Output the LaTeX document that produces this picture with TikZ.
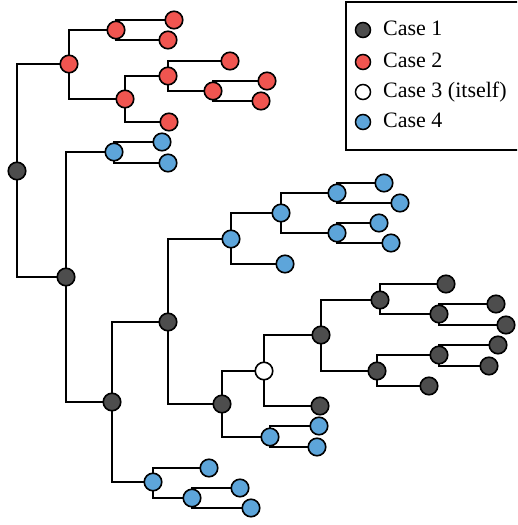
\documentclass[tikz,border=0pt]{standalone}
\usepackage{fontspec}
\setmainfont{Liberation Serif}
\usetikzlibrary{backgrounds}
\definecolor{cdark}{RGB}{77,77,77}
\definecolor{cred}{RGB}{240,85,80}
\definecolor{cblue}{RGB}{93,165,218}
\tikzset{
  nd/.style={circle,draw=black,line width=1.6pt,minimum size=17.5pt,inner sep=0pt},
  cone/.style={nd,fill=cdark},
  ctwo/.style={nd,fill=cred},
  cthree/.style={nd,fill=white},
  cfour/.style={nd,fill=cblue},
  lg/.style={circle,draw=black,line width=1.5pt,minimum size=15pt,inner sep=0pt},
  lgtext/.style={anchor=west,inner sep=0pt,font=\fontsize{22}{26}\selectfont,text height=14.5pt,text depth=4pt},
  edge/.style={draw=black,line width=1.7pt},
  legendbox/.style={draw=black,line width=1.6pt,fill=white}
}
\begin{document}
\begin{tikzpicture}[x=1pt,y=-1pt]
\useasboundingbox (0,0) rectangle (517,525);
\clip (0,0) rectangle (517,525);
% legend
\node[legendbox,minimum width=180pt,minimum height=148pt,anchor=north west,inner sep=0pt] (legend) at (345,1) {};
\node[lg,fill=cdark] (l1) at (363,30) {};
\node[lgtext] (t1) at (383,30) {Case 1};
\node[lg,fill=cred] (l2) at (363,62) {};
\node[lgtext] (t2) at (383,62) {Case 2};
\node[lg,fill=white] (l3) at (363,92) {};
\node[lgtext] (t3) at (383,92) {Case 3 (itself)};
\node[lg,fill=cblue] (l4) at (363,122) {};
\node[lgtext] (t4) at (383,122) {Case 4};
% tree nodes
\node[cone] (root) at (17,171) {};
\node[ctwo] (a) at (69,64) {};
\node[ctwo] (b) at (116,30) {};
\node[ctwo] (b1) at (174,20) {};
\node[ctwo] (b2) at (168,40) {};
\node[ctwo] (c) at (125,99) {};
\node[ctwo] (d) at (168,76) {};
\node[ctwo] (d1) at (230,61) {};
\node[ctwo] (e) at (213,91) {};
\node[ctwo] (e1) at (267,81) {};
\node[ctwo] (e2) at (261,101) {};
\node[ctwo] (cc) at (169,122) {};
\node[cone] (f) at (66,277) {};
\node[cfour] (g) at (114,152) {};
\node[cfour] (g1) at (162,142) {};
\node[cfour] (g2) at (168,163) {};
\node[cone] (h) at (112,402) {};
\node[cone] (i) at (168,322) {};
\node[cfour] (l) at (231,239) {};
\node[cfour] (n) at (281,213) {};
\node[cfour] (o) at (337,193) {};
\node[cfour] (o1) at (384,183) {};
\node[cfour] (o2) at (400,203) {};
\node[cfour] (p) at (337,233) {};
\node[cfour] (p1) at (379,223) {};
\node[cfour] (p2) at (391,243) {};
\node[cfour] (ll) at (285,264) {};
\node[cone] (m) at (222,404) {};
\node[cthree] (w) at (264,371) {};
\node[cone] (r) at (321,335) {};
\node[cone] (s) at (380,300) {};
\node[cone] (s1) at (446,284) {};
\node[cone] (u) at (439,314) {};
\node[cone] (u1) at (496,304) {};
\node[cone] (u2) at (506,325) {};
\node[cone] (t) at (377,371) {};
\node[cone] (v) at (439,355) {};
\node[cone] (v1) at (498,345) {};
\node[cone] (v2) at (489,366) {};
\node[cone] (tt) at (429,386) {};
\node[cone] (ww) at (320,406) {};
\node[cfour] (q) at (270,437) {};
\node[cfour] (q1) at (319,426) {};
\node[cfour] (q2) at (317,447) {};
\node[cfour] (j) at (153,482) {};
\node[cfour] (j1) at (209,468) {};
\node[cfour] (k) at (192,498) {};
\node[cfour] (k1) at (240,488) {};
\node[cfour] (k2) at (251,508) {};
\begin{scope}[on background layer]
\foreach \p/\c in {root/a,root/f,a/b,a/c,b/b1,b/b2,c/d,c/cc,d/d1,d/e,e/e1,e/e2,
  f/g,f/h,g/g1,g/g2,h/i,h/j,i/l,i/m,l/n,l/ll,n/o,n/p,o/o1,o/o2,p/p1,p/p2,
  m/w,m/q,w/r,w/ww,r/s,r/t,s/s1,s/u,u/u1,u/u2,t/v,t/tt,v/v1,v/v2,q/q1,q/q2,
  j/j1,j/k,k/k1,k/k2}
  \draw[edge] (\p.center) |- (\c.center);
\end{scope}
\end{tikzpicture}
\end{document}
